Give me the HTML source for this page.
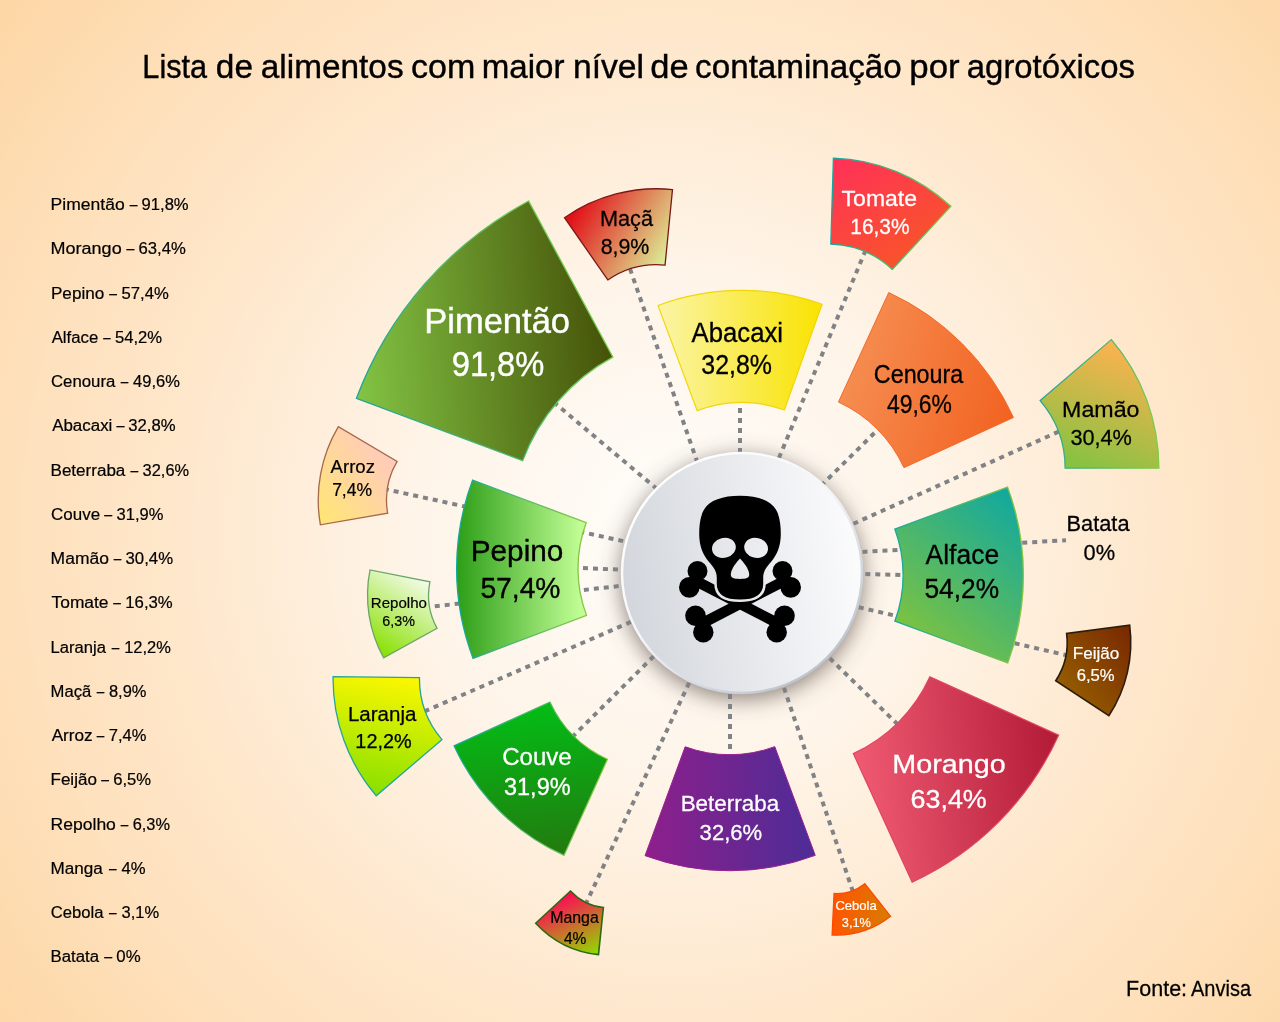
<!DOCTYPE html><html><head><meta charset="utf-8"><style>html,body{margin:0;padding:0;width:1280px;height:1022px;overflow:hidden;background:#fde3c2}svg{display:block;will-change:transform;font-family:"Liberation Sans",sans-serif}</style></head><body><svg width="1280" height="1022" viewBox="0 0 1280 1022"><defs><radialGradient id="bg" gradientUnits="userSpaceOnUse" cx="670" cy="530" r="860"><stop offset="0" stop-color="#fffdfa"/><stop offset="0.3" stop-color="#fef4e8"/><stop offset="0.58" stop-color="#fee7cb"/><stop offset="0.75" stop-color="#fee1bd"/><stop offset="1" stop-color="#fdd6a4"/></radialGradient><filter id="shadow" x="-40%" y="-40%" width="180%" height="180%"><feGaussianBlur stdDeviation="11"/></filter><linearGradient id="g_pimentao" gradientUnits="userSpaceOnUse" x1="358" y1="400" x2="612" y2="380"><stop offset="0" stop-color="#82c443"/><stop offset="1" stop-color="#465309"/></linearGradient><linearGradient id="s_pimentao" gradientUnits="userSpaceOnUse" x1="360" y1="400" x2="610" y2="300"><stop offset="0" stop-color="#1ea29c"/><stop offset="1" stop-color="#80d24c"/></linearGradient><linearGradient id="g_maca" gradientUnits="userSpaceOnUse" x1="575" y1="212" x2="668" y2="268"><stop offset="0" stop-color="#e2121a"/><stop offset="1" stop-color="#dcf99c"/></linearGradient><linearGradient id="g_tomate" gradientUnits="userSpaceOnUse" x1="835" y1="160" x2="900" y2="268"><stop offset="0" stop-color="#ff3158"/><stop offset="1" stop-color="#f8542a"/></linearGradient><linearGradient id="s_tomate" gradientUnits="userSpaceOnUse" x1="832" y1="200" x2="950" y2="210"><stop offset="0" stop-color="#13a89e"/><stop offset="1" stop-color="#7cc84a"/></linearGradient><linearGradient id="g_abacaxi" gradientUnits="userSpaceOnUse" x1="660" y1="350" x2="822" y2="350"><stop offset="0" stop-color="#fbf4a4"/><stop offset="1" stop-color="#f9e300"/></linearGradient><linearGradient id="g_cenoura" gradientUnits="userSpaceOnUse" x1="840" y1="360" x2="1012" y2="410"><stop offset="0" stop-color="#f68f53"/><stop offset="1" stop-color="#f26322"/></linearGradient><linearGradient id="g_mamao" gradientUnits="userSpaceOnUse" x1="1111" y1="342" x2="1062" y2="468"><stop offset="0" stop-color="#fbb24f"/><stop offset="1" stop-color="#80c341"/></linearGradient><linearGradient id="s_mamao" gradientUnits="userSpaceOnUse" x1="1040" y1="400" x2="1159" y2="420"><stop offset="0" stop-color="#1ea59c"/><stop offset="1" stop-color="#80cb48"/></linearGradient><linearGradient id="g_alface" gradientUnits="userSpaceOnUse" x1="896" y1="622" x2="1010" y2="488"><stop offset="0" stop-color="#7cc242"/><stop offset="1" stop-color="#10a8a0"/></linearGradient><linearGradient id="s_alface" gradientUnits="userSpaceOnUse" x1="895" y1="575" x2="1024" y2="575"><stop offset="0" stop-color="#13a89e"/><stop offset="1" stop-color="#8dc63f"/></linearGradient><linearGradient id="g_feijao" gradientUnits="userSpaceOnUse" x1="1056" y1="682" x2="1130" y2="626"><stop offset="0" stop-color="#955d00"/><stop offset="1" stop-color="#782800"/></linearGradient><linearGradient id="g_morango" gradientUnits="userSpaceOnUse" x1="855" y1="760" x2="1058" y2="740"><stop offset="0" stop-color="#f05a72"/><stop offset="1" stop-color="#b21a36"/></linearGradient><linearGradient id="g_cebola" gradientUnits="userSpaceOnUse" x1="833" y1="905" x2="890" y2="912"><stop offset="0" stop-color="#ff5400"/><stop offset="1" stop-color="#d87c00"/></linearGradient><linearGradient id="g_beterraba" gradientUnits="userSpaceOnUse" x1="645" y1="800" x2="815" y2="800"><stop offset="0" stop-color="#8e1f8b"/><stop offset="1" stop-color="#4d2c96"/></linearGradient><linearGradient id="g_manga" gradientUnits="userSpaceOnUse" x1="570" y1="892" x2="598" y2="954"><stop offset="0" stop-color="#ff0857"/><stop offset="1" stop-color="#8fdd00"/></linearGradient><linearGradient id="g_couve" gradientUnits="userSpaceOnUse" x1="550" y1="702" x2="565" y2="855"><stop offset="0" stop-color="#03bd16"/><stop offset="1" stop-color="#227a0f"/></linearGradient><linearGradient id="s_couve" gradientUnits="userSpaceOnUse" x1="454" y1="745" x2="607" y2="760"><stop offset="0" stop-color="#13a89e"/><stop offset="1" stop-color="#8dc63f"/></linearGradient><linearGradient id="g_laranja" gradientUnits="userSpaceOnUse" x1="400" y1="677" x2="377" y2="795"><stop offset="0" stop-color="#fbf700"/><stop offset="1" stop-color="#88e000"/></linearGradient><linearGradient id="g_repolho" gradientUnits="userSpaceOnUse" x1="384" y1="657" x2="432" y2="582"><stop offset="0" stop-color="#88e000"/><stop offset="1" stop-color="#f6fcf0"/></linearGradient><linearGradient id="g_pepino" gradientUnits="userSpaceOnUse" x1="452" y1="570" x2="580" y2="570"><stop offset="0" stop-color="#279a12"/><stop offset="1" stop-color="#c0fd94"/></linearGradient><linearGradient id="s_pepino" gradientUnits="userSpaceOnUse" x1="458" y1="570" x2="587" y2="570"><stop offset="0" stop-color="#13a89e"/><stop offset="1" stop-color="#8dc63f"/></linearGradient><linearGradient id="g_arroz" gradientUnits="userSpaceOnUse" x1="322" y1="522" x2="397" y2="462"><stop offset="0" stop-color="#ffe676"/><stop offset="1" stop-color="#ffcabd"/></linearGradient><linearGradient id="circ" gradientUnits="userSpaceOnUse" x1="621" y1="595" x2="863" y2="555"><stop offset="0" stop-color="#d2d6dc"/><stop offset="1" stop-color="#fcfcfd"/></linearGradient><linearGradient id="circs" gradientUnits="userSpaceOnUse" x1="660" y1="470" x2="820" y2="680"><stop offset="0" stop-color="#ffffff"/><stop offset="0.45" stop-color="#f4f5f7"/><stop offset="1" stop-color="#b9c0cb"/></linearGradient></defs><rect x="0" y="0" width="1280" height="1022" fill="url(#bg)"/>
<text x="142.36" y="78.00" font-size="33.72" fill="#000" stroke="#000" stroke-width="0.40" textLength="64.73" lengthAdjust="spacingAndGlyphs">Lista</text>
<text x="215.86" y="78.00" font-size="33.72" fill="#000" stroke="#000" stroke-width="0.40" textLength="37.14" lengthAdjust="spacingAndGlyphs">de</text>
<text x="260.79" y="78.00" font-size="33.72" fill="#000" stroke="#000" stroke-width="0.40" textLength="142.78" lengthAdjust="spacingAndGlyphs">alimentos</text>
<text x="411.04" y="78.00" font-size="33.72" fill="#000" stroke="#000" stroke-width="0.40" textLength="64.29" lengthAdjust="spacingAndGlyphs">com</text>
<text x="481.65" y="78.00" font-size="33.72" fill="#000" stroke="#000" stroke-width="0.40" textLength="82.80" lengthAdjust="spacingAndGlyphs">maior</text>
<text x="572.99" y="78.00" font-size="33.72" fill="#000" stroke="#000" stroke-width="0.40" textLength="71.08" lengthAdjust="spacingAndGlyphs">nível</text>
<text x="650.38" y="78.00" font-size="33.72" fill="#000" stroke="#000" stroke-width="0.40" textLength="38.34" lengthAdjust="spacingAndGlyphs">de</text>
<text x="695.11" y="78.00" font-size="33.72" fill="#000" stroke="#000" stroke-width="0.40" textLength="206.67" lengthAdjust="spacingAndGlyphs">contaminação</text>
<text x="909.39" y="78.00" font-size="33.72" fill="#000" stroke="#000" stroke-width="0.40" textLength="50.32" lengthAdjust="spacingAndGlyphs">por</text>
<text x="966.84" y="78.00" font-size="33.72" fill="#000" stroke="#000" stroke-width="0.40" textLength="168.07" lengthAdjust="spacingAndGlyphs">agrotóxicos</text>
<text x="50.64" y="210.00" font-size="17.30" fill="#000" stroke="#000" stroke-width="0.21" textLength="74.00" lengthAdjust="spacingAndGlyphs">Pimentão</text>
<text x="129.78" y="210.00" font-size="17.30" fill="#000" stroke="#000" stroke-width="0.21" textLength="7.75" lengthAdjust="spacingAndGlyphs">–</text>
<text x="141.54" y="210.00" font-size="17.30" fill="#000" stroke="#000" stroke-width="0.21" textLength="47.13" lengthAdjust="spacingAndGlyphs">91,8%</text>
<text x="50.61" y="254.26" font-size="17.30" fill="#000" stroke="#000" stroke-width="0.21" textLength="71.04" lengthAdjust="spacingAndGlyphs">Morango</text>
<text x="126.46" y="254.26" font-size="17.30" fill="#000" stroke="#000" stroke-width="0.21" textLength="7.87" lengthAdjust="spacingAndGlyphs">–</text>
<text x="138.43" y="254.26" font-size="17.30" fill="#000" stroke="#000" stroke-width="0.21" textLength="47.35" lengthAdjust="spacingAndGlyphs">63,4%</text>
<text x="50.94" y="298.52" font-size="17.30" fill="#000" stroke="#000" stroke-width="0.21" textLength="53.34" lengthAdjust="spacingAndGlyphs">Pepino</text>
<text x="109.21" y="298.52" font-size="17.30" fill="#000" stroke="#000" stroke-width="0.21" textLength="7.72" lengthAdjust="spacingAndGlyphs">–</text>
<text x="121.48" y="298.52" font-size="17.30" fill="#000" stroke="#000" stroke-width="0.21" textLength="47.29" lengthAdjust="spacingAndGlyphs">57,4%</text>
<text x="51.66" y="342.78" font-size="17.30" fill="#000" stroke="#000" stroke-width="0.21" textLength="46.64" lengthAdjust="spacingAndGlyphs">Alface</text>
<text x="103.24" y="342.78" font-size="17.30" fill="#000" stroke="#000" stroke-width="0.21" textLength="7.34" lengthAdjust="spacingAndGlyphs">–</text>
<text x="114.92" y="342.78" font-size="17.30" fill="#000" stroke="#000" stroke-width="0.21" textLength="47.22" lengthAdjust="spacingAndGlyphs">54,2%</text>
<text x="50.98" y="387.04" font-size="17.30" fill="#000" stroke="#000" stroke-width="0.21" textLength="64.35" lengthAdjust="spacingAndGlyphs">Cenoura</text>
<text x="120.77" y="387.04" font-size="17.30" fill="#000" stroke="#000" stroke-width="0.21" textLength="7.53" lengthAdjust="spacingAndGlyphs">–</text>
<text x="133.08" y="387.04" font-size="17.30" fill="#000" stroke="#000" stroke-width="0.21" textLength="46.80" lengthAdjust="spacingAndGlyphs">49,6%</text>
<text x="52.18" y="431.30" font-size="17.30" fill="#000" stroke="#000" stroke-width="0.21" textLength="60.19" lengthAdjust="spacingAndGlyphs">Abacaxi</text>
<text x="116.43" y="431.30" font-size="17.30" fill="#000" stroke="#000" stroke-width="0.21" textLength="7.99" lengthAdjust="spacingAndGlyphs">–</text>
<text x="128.23" y="431.30" font-size="17.30" fill="#000" stroke="#000" stroke-width="0.21" textLength="47.33" lengthAdjust="spacingAndGlyphs">32,8%</text>
<text x="50.53" y="475.56" font-size="17.30" fill="#000" stroke="#000" stroke-width="0.21" textLength="74.84" lengthAdjust="spacingAndGlyphs">Beterraba</text>
<text x="130.62" y="475.56" font-size="17.30" fill="#000" stroke="#000" stroke-width="0.21" textLength="7.75" lengthAdjust="spacingAndGlyphs">–</text>
<text x="142.61" y="475.56" font-size="17.30" fill="#000" stroke="#000" stroke-width="0.21" textLength="46.49" lengthAdjust="spacingAndGlyphs">32,6%</text>
<text x="51.08" y="519.82" font-size="17.30" fill="#000" stroke="#000" stroke-width="0.21" textLength="49.10" lengthAdjust="spacingAndGlyphs">Couve</text>
<text x="104.20" y="519.82" font-size="17.30" fill="#000" stroke="#000" stroke-width="0.21" textLength="7.95" lengthAdjust="spacingAndGlyphs">–</text>
<text x="116.58" y="519.82" font-size="17.30" fill="#000" stroke="#000" stroke-width="0.21" textLength="46.80" lengthAdjust="spacingAndGlyphs">31,9%</text>
<text x="50.64" y="564.08" font-size="17.30" fill="#000" stroke="#000" stroke-width="0.21" textLength="58.30" lengthAdjust="spacingAndGlyphs">Mamão</text>
<text x="113.77" y="564.08" font-size="17.30" fill="#000" stroke="#000" stroke-width="0.21" textLength="7.53" lengthAdjust="spacingAndGlyphs">–</text>
<text x="125.56" y="564.08" font-size="17.30" fill="#000" stroke="#000" stroke-width="0.21" textLength="47.53" lengthAdjust="spacingAndGlyphs">30,4%</text>
<text x="51.55" y="608.34" font-size="17.30" fill="#000" stroke="#000" stroke-width="0.21" textLength="56.98" lengthAdjust="spacingAndGlyphs">Tomate</text>
<text x="113.24" y="608.34" font-size="17.30" fill="#000" stroke="#000" stroke-width="0.21" textLength="7.58" lengthAdjust="spacingAndGlyphs">–</text>
<text x="125.27" y="608.34" font-size="17.30" fill="#000" stroke="#000" stroke-width="0.21" textLength="47.48" lengthAdjust="spacingAndGlyphs">16,3%</text>
<text x="50.58" y="652.60" font-size="17.30" fill="#000" stroke="#000" stroke-width="0.21" textLength="55.42" lengthAdjust="spacingAndGlyphs">Laranja</text>
<text x="111.77" y="652.60" font-size="17.30" fill="#000" stroke="#000" stroke-width="0.21" textLength="7.53" lengthAdjust="spacingAndGlyphs">–</text>
<text x="124.13" y="652.60" font-size="17.30" fill="#000" stroke="#000" stroke-width="0.21" textLength="46.74" lengthAdjust="spacingAndGlyphs">12,2%</text>
<text x="50.56" y="696.86" font-size="17.30" fill="#000" stroke="#000" stroke-width="0.21" textLength="40.66" lengthAdjust="spacingAndGlyphs">Maçã</text>
<text x="96.77" y="696.86" font-size="17.30" fill="#000" stroke="#000" stroke-width="0.21" textLength="7.53" lengthAdjust="spacingAndGlyphs">–</text>
<text x="108.91" y="696.86" font-size="17.30" fill="#000" stroke="#000" stroke-width="0.21" textLength="37.52" lengthAdjust="spacingAndGlyphs">8,9%</text>
<text x="51.64" y="741.12" font-size="17.30" fill="#000" stroke="#000" stroke-width="0.21" textLength="41.06" lengthAdjust="spacingAndGlyphs">Arroz</text>
<text x="96.77" y="741.12" font-size="17.30" fill="#000" stroke="#000" stroke-width="0.21" textLength="7.53" lengthAdjust="spacingAndGlyphs">–</text>
<text x="108.82" y="741.12" font-size="17.30" fill="#000" stroke="#000" stroke-width="0.21" textLength="37.61" lengthAdjust="spacingAndGlyphs">7,4%</text>
<text x="50.53" y="785.38" font-size="17.30" fill="#000" stroke="#000" stroke-width="0.21" textLength="46.33" lengthAdjust="spacingAndGlyphs">Feijão</text>
<text x="101.26" y="785.38" font-size="17.30" fill="#000" stroke="#000" stroke-width="0.21" textLength="7.70" lengthAdjust="spacingAndGlyphs">–</text>
<text x="113.20" y="785.38" font-size="17.30" fill="#000" stroke="#000" stroke-width="0.21" textLength="37.85" lengthAdjust="spacingAndGlyphs">6,5%</text>
<text x="50.63" y="829.64" font-size="17.30" fill="#000" stroke="#000" stroke-width="0.21" textLength="65.24" lengthAdjust="spacingAndGlyphs">Repolho</text>
<text x="120.77" y="829.64" font-size="17.30" fill="#000" stroke="#000" stroke-width="0.21" textLength="7.53" lengthAdjust="spacingAndGlyphs">–</text>
<text x="132.71" y="829.64" font-size="17.30" fill="#000" stroke="#000" stroke-width="0.21" textLength="37.32" lengthAdjust="spacingAndGlyphs">6,3%</text>
<text x="50.52" y="873.90" font-size="17.30" fill="#000" stroke="#000" stroke-width="0.21" textLength="52.28" lengthAdjust="spacingAndGlyphs">Manga</text>
<text x="109.07" y="873.90" font-size="17.30" fill="#000" stroke="#000" stroke-width="0.21" textLength="7.57" lengthAdjust="spacingAndGlyphs">–</text>
<text x="121.57" y="873.90" font-size="17.30" fill="#000" stroke="#000" stroke-width="0.21" textLength="24.09" lengthAdjust="spacingAndGlyphs">4%</text>
<text x="50.77" y="918.16" font-size="17.30" fill="#000" stroke="#000" stroke-width="0.21" textLength="52.75" lengthAdjust="spacingAndGlyphs">Cebola</text>
<text x="109.07" y="918.16" font-size="17.30" fill="#000" stroke="#000" stroke-width="0.21" textLength="7.57" lengthAdjust="spacingAndGlyphs">–</text>
<text x="121.59" y="918.16" font-size="17.30" fill="#000" stroke="#000" stroke-width="0.21" textLength="37.62" lengthAdjust="spacingAndGlyphs">3,1%</text>
<text x="50.55" y="962.42" font-size="17.30" fill="#000" stroke="#000" stroke-width="0.21" textLength="48.50" lengthAdjust="spacingAndGlyphs">Batata</text>
<text x="104.20" y="962.42" font-size="17.30" fill="#000" stroke="#000" stroke-width="0.21" textLength="7.95" lengthAdjust="spacingAndGlyphs">–</text>
<text x="116.35" y="962.42" font-size="17.30" fill="#000" stroke="#000" stroke-width="0.21" textLength="24.33" lengthAdjust="spacingAndGlyphs">0%</text>
<text x="1126.11" y="996.00" font-size="21.44" fill="#000" stroke="#000" stroke-width="0.26" textLength="60.99" lengthAdjust="spacingAndGlyphs">Fonte:</text>
<text x="1190.99" y="996.00" font-size="21.44" fill="#000" stroke="#000" stroke-width="0.26" textLength="60.10" lengthAdjust="spacingAndGlyphs">Anvisa</text>
<circle cx="742" cy="578" r="121" fill="#5e5248" fill-opacity="0.72" filter="url(#shadow)"/>
<g stroke="#808285" stroke-width="4" stroke-dasharray="5 5" fill="none"><line x1="553.71" y1="402.14" x2="662.65" y2="493.74"/><line x1="630.03" y1="268.93" x2="700.09" y2="470.14"/><line x1="740.00" y1="398.00" x2="740.00" y2="462.00"/><line x1="865.61" y1="250.26" x2="776.55" y2="463.63"/><line x1="881.47" y1="425.98" x2="816.19" y2="490.53"/><line x1="1058.67" y1="431.64" x2="847.78" y2="526.29"/><line x1="852.52" y1="552.47" x2="1066.00" y2="540.25"/><line x1="855.30" y1="573.71" x2="906.00" y2="575.17"/><line x1="849.01" y1="604.95" x2="1069.85" y2="655.95"/><line x1="822.63" y1="651.33" x2="900.30" y2="726.88"/><line x1="780.79" y1="678.38" x2="854.12" y2="895.08"/><line x1="730.00" y1="684.00" x2="730.00" y2="760.50"/><line x1="585.46" y1="904.74" x2="691.93" y2="676.74"/><line x1="572.04" y1="737.23" x2="658.20" y2="651.76"/><line x1="424.50" y1="711.39" x2="637.07" y2="619.22"/><line x1="424.84" y1="607.35" x2="629.64" y2="584.91"/><line x1="573.01" y1="567.41" x2="629.69" y2="570.19"/><line x1="383.89" y1="488.82" x2="633.52" y2="543.39"/></g>
<path d="M356.46,398.32 A373.26,373.26 0 0 1 528.57,200.95 L612.92,357.12 A195.76,195.76 0 0 0 522.66,460.63 Z" fill="url(#g_pimentao)" stroke="url(#s_pimentao)" stroke-width="1.3" stroke-linejoin="miter"/>
<path d="M564.48,217.67 A161.41,161.41 0 0 1 672.50,189.53 L665.05,265.05 A85.53,85.53 0 0 0 607.82,279.96 Z" fill="url(#g_maca)" stroke="#7a1818" stroke-width="1.3" stroke-linejoin="miter"/>
<path d="M833.41,158.16 A180.84,180.84 0 0 1 950.90,206.32 L892.37,269.44 A94.76,94.76 0 0 0 830.81,244.21 Z" fill="url(#g_tomate)" stroke="url(#s_tomate)" stroke-width="1.3" stroke-linejoin="miter"/>
<path d="M657.98,305.44 A239.53,239.53 0 0 1 822.06,304.26 L784.38,409.99 A127.29,127.29 0 0 0 697.18,410.61 Z" fill="url(#g_abacaxi)" stroke="#f0d60a" stroke-width="1.2" stroke-linejoin="miter"/>
<path d="M888.71,292.57 A253.61,253.61 0 0 1 1013.47,417.51 L903.93,467.63 A133.15,133.15 0 0 0 838.43,402.03 Z" fill="url(#g_cenoura)" stroke="#f36a2b" stroke-width="1.0" stroke-linejoin="miter"/>
<path d="M1111.35,339.57 A197.79,197.79 0 0 1 1158.90,468.20 L1065.13,468.20 A104.02,104.02 0 0 0 1040.13,400.55 Z" fill="url(#g_mamao)" stroke="url(#s_mamao)" stroke-width="1.3" stroke-linejoin="miter"/>
<path d="M1007.51,487.02 A252.22,252.22 0 0 1 1007.69,662.92 L894.90,621.09 A131.92,131.92 0 0 0 894.80,529.09 Z" fill="url(#g_alface)" stroke="url(#s_alface)" stroke-width="1.3" stroke-linejoin="miter"/>
<path d="M1129.63,625.22 A133.13,133.13 0 0 1 1108.85,715.70 L1055.73,680.75 A69.55,69.55 0 0 0 1066.58,633.49 Z" fill="url(#g_feijao)" stroke="#2a1c0e" stroke-width="1.6" stroke-linejoin="miter"/>
<path d="M1058.58,735.14 A295.92,295.92 0 0 1 912.16,882.12 L853.36,753.63 A154.61,154.61 0 0 0 929.87,676.84 Z" fill="url(#g_morango)" stroke="#e04460" stroke-width="1.2" stroke-linejoin="miter"/>
<path d="M832.10,935.07 A87.65,87.65 0 0 0 890.56,916.35 L864.79,883.66 A46.02,46.02 0 0 1 834.09,893.48 Z" fill="url(#g_cebola)" stroke="#ff4800" stroke-width="1.3" stroke-linejoin="miter"/>
<path d="M645.05,855.64 A245.00,245.00 0 0 0 815.25,855.36 L774.77,746.63 A128.98,128.98 0 0 1 685.17,746.77 Z" fill="url(#g_beterraba)" stroke="#9a2090" stroke-width="1.0" stroke-linejoin="miter"/>
<path d="M535.70,923.21 A99.59,99.59 0 0 0 598.49,954.63 L603.39,907.50 A52.20,52.20 0 0 1 570.47,891.03 Z" fill="url(#g_manga)" stroke="#2b6a12" stroke-width="1.6" stroke-linejoin="miter"/>
<path d="M454.03,745.84 A221.08,221.08 0 0 0 564.04,855.33 L607.47,759.23 A115.62,115.62 0 0 1 549.93,701.97 Z" fill="url(#g_couve)" stroke="url(#s_couve)" stroke-width="1.2" stroke-linejoin="miter"/>
<path d="M333.07,676.60 A180.35,180.35 0 0 0 376.22,795.74 L441.93,739.67 A93.97,93.97 0 0 1 419.46,677.60 Z" fill="url(#g_laranja)" stroke="#23a59c" stroke-width="1.3" stroke-linejoin="miter"/>
<path d="M370.03,569.89 A129.70,129.70 0 0 0 383.62,657.81 L437.10,628.35 A68.64,68.64 0 0 1 429.91,581.82 Z" fill="url(#g_repolho)" stroke="#6aa56a" stroke-width="1.3" stroke-linejoin="miter"/>
<path d="M472.53,480.21 A253.24,253.24 0 0 0 473.07,658.41 L586.54,615.36 A131.88,131.88 0 0 1 586.26,522.56 Z" fill="url(#g_pepino)" stroke="url(#s_pepino)" stroke-width="1.3" stroke-linejoin="miter"/>
<path d="M338.34,426.61 A144.14,144.14 0 0 0 320.38,524.87 L387.67,513.10 A75.82,75.82 0 0 1 397.12,461.41 Z" fill="url(#g_arroz)" stroke="#a5694a" stroke-width="1.3" stroke-linejoin="miter"/>
<text x="424.23" y="332.50" font-size="34.88" fill="#fff" stroke="#fff" stroke-width="0.42" textLength="145.84" lengthAdjust="spacingAndGlyphs">Pimentão</text>
<text x="451.73" y="375.90" font-size="34.88" fill="#fff" stroke="#fff" stroke-width="0.42" textLength="92.57" lengthAdjust="spacingAndGlyphs">91,8%</text>
<text x="599.92" y="225.70" font-size="21.80" fill="#000" stroke="#000" stroke-width="0.26" textLength="53.12" lengthAdjust="spacingAndGlyphs">Maçã</text>
<text x="600.63" y="254.30" font-size="21.80" fill="#000" stroke="#000" stroke-width="0.26" textLength="48.71" lengthAdjust="spacingAndGlyphs">8,9%</text>
<text x="841.62" y="205.70" font-size="22.82" fill="#fff" stroke="#fff" stroke-width="0.27" textLength="75.41" lengthAdjust="spacingAndGlyphs">Tomate</text>
<text x="850.33" y="233.90" font-size="22.82" fill="#fff" stroke="#fff" stroke-width="0.27" textLength="59.11" lengthAdjust="spacingAndGlyphs">16,3%</text>
<text x="691.60" y="342.00" font-size="27.62" fill="#000" stroke="#000" stroke-width="0.33" textLength="91.39" lengthAdjust="spacingAndGlyphs">Abacaxi</text>
<text x="701.32" y="374.30" font-size="27.62" fill="#000" stroke="#000" stroke-width="0.33" textLength="70.68" lengthAdjust="spacingAndGlyphs">32,8%</text>
<text x="873.81" y="382.60" font-size="25.15" fill="#000" stroke="#000" stroke-width="0.30" textLength="89.55" lengthAdjust="spacingAndGlyphs">Cenoura</text>
<text x="886.94" y="413.30" font-size="25.15" fill="#000" stroke="#000" stroke-width="0.30" textLength="64.88" lengthAdjust="spacingAndGlyphs">49,6%</text>
<text x="1062.12" y="416.60" font-size="22.38" fill="#000" stroke="#000" stroke-width="0.27" textLength="77.37" lengthAdjust="spacingAndGlyphs">Mamão</text>
<text x="1070.40" y="445.20" font-size="22.38" fill="#000" stroke="#000" stroke-width="0.27" textLength="61.51" lengthAdjust="spacingAndGlyphs">30,4%</text>
<text x="925.60" y="563.60" font-size="28.34" fill="#000" stroke="#000" stroke-width="0.34" textLength="73.53" lengthAdjust="spacingAndGlyphs">Alface</text>
<text x="924.49" y="598.00" font-size="28.34" fill="#000" stroke="#000" stroke-width="0.34" textLength="74.57" lengthAdjust="spacingAndGlyphs">54,2%</text>
<text x="1066.53" y="531.20" font-size="21.80" fill="#000" stroke="#000" stroke-width="0.26" textLength="63.04" lengthAdjust="spacingAndGlyphs">Batata</text>
<text x="1083.59" y="559.90" font-size="21.80" fill="#000" stroke="#000" stroke-width="0.26" textLength="31.54" lengthAdjust="spacingAndGlyphs">0%</text>
<text x="1072.73" y="659.10" font-size="17.15" fill="#fff" stroke="#fff" stroke-width="0.21" textLength="46.68" lengthAdjust="spacingAndGlyphs">Feijão</text>
<text x="1076.71" y="680.80" font-size="17.15" fill="#fff" stroke="#fff" stroke-width="0.21" textLength="38.00" lengthAdjust="spacingAndGlyphs">6,5%</text>
<text x="892.23" y="773.30" font-size="26.60" fill="#fff" stroke="#fff" stroke-width="0.32" textLength="113.42" lengthAdjust="spacingAndGlyphs">Morango</text>
<text x="910.64" y="807.80" font-size="26.60" fill="#fff" stroke="#fff" stroke-width="0.32" textLength="76.11" lengthAdjust="spacingAndGlyphs">63,4%</text>
<text x="835.44" y="910.00" font-size="13.37" fill="#fff" stroke="#fff" stroke-width="0.20" textLength="41.32" lengthAdjust="spacingAndGlyphs">Cebola</text>
<text x="841.81" y="926.90" font-size="13.37" fill="#fff" stroke="#fff" stroke-width="0.20" textLength="29.15" lengthAdjust="spacingAndGlyphs">3,1%</text>
<text x="680.67" y="810.50" font-size="21.51" fill="#fff" stroke="#fff" stroke-width="0.26" textLength="98.52" lengthAdjust="spacingAndGlyphs">Beterraba</text>
<text x="699.63" y="839.50" font-size="21.51" fill="#fff" stroke="#fff" stroke-width="0.26" textLength="62.49" lengthAdjust="spacingAndGlyphs">32,6%</text>
<text x="550.21" y="923.30" font-size="15.99" fill="#000" stroke="#000" stroke-width="0.20" textLength="48.58" lengthAdjust="spacingAndGlyphs">Manga</text>
<text x="563.97" y="943.50" font-size="15.99" fill="#000" stroke="#000" stroke-width="0.20" textLength="22.47" lengthAdjust="spacingAndGlyphs">4%</text>
<text x="502.20" y="765.20" font-size="23.40" fill="#fff" stroke="#fff" stroke-width="0.28" textLength="69.48" lengthAdjust="spacingAndGlyphs">Couve</text>
<text x="504.03" y="795.40" font-size="23.40" fill="#fff" stroke="#fff" stroke-width="0.28" textLength="66.54" lengthAdjust="spacingAndGlyphs">31,9%</text>
<text x="347.90" y="720.50" font-size="21.08" fill="#000" stroke="#000" stroke-width="0.25" textLength="68.47" lengthAdjust="spacingAndGlyphs">Laranja</text>
<text x="355.37" y="747.60" font-size="21.08" fill="#000" stroke="#000" stroke-width="0.25" textLength="56.37" lengthAdjust="spacingAndGlyphs">12,2%</text>
<text x="370.79" y="607.50" font-size="14.54" fill="#000" stroke="#000" stroke-width="0.20" textLength="56.16" lengthAdjust="spacingAndGlyphs">Repolho</text>
<text x="382.27" y="626.30" font-size="14.54" fill="#000" stroke="#000" stroke-width="0.20" textLength="32.57" lengthAdjust="spacingAndGlyphs">6,3%</text>
<text x="470.73" y="560.50" font-size="29.65" fill="#000" stroke="#000" stroke-width="0.36" textLength="92.60" lengthAdjust="spacingAndGlyphs">Pepino</text>
<text x="480.42" y="598.30" font-size="29.65" fill="#000" stroke="#000" stroke-width="0.36" textLength="80.06" lengthAdjust="spacingAndGlyphs">57,4%</text>
<text x="330.63" y="472.50" font-size="18.46" fill="#000" stroke="#000" stroke-width="0.22" textLength="44.35" lengthAdjust="spacingAndGlyphs">Arroz</text>
<text x="332.15" y="496.20" font-size="18.46" fill="#000" stroke="#000" stroke-width="0.22" textLength="39.88" lengthAdjust="spacingAndGlyphs">7,4%</text>
<circle cx="742" cy="573" r="120" fill="url(#circ)" stroke="url(#circs)" stroke-width="2.5"/>
<g><g stroke="#000" stroke-width="10.5" stroke-linecap="butt"><line x1="694" y1="580" x2="781" y2="625"/><line x1="786" y1="580" x2="699" y2="625"/></g><g fill="#000"><circle cx="697.5" cy="571" r="10"/><circle cx="689.3" cy="587.4" r="10.3"/><circle cx="782.5" cy="571" r="10"/><circle cx="790.7" cy="587.4" r="10.3"/><circle cx="695.5" cy="615.7" r="10.3"/><circle cx="703.3" cy="632.3" r="10.2"/><circle cx="784.5" cy="615.7" r="10.3"/><circle cx="776.7" cy="632.3" r="10.2"/></g><clipPath id="jawclip"><rect x="680" y="562" width="120" height="60"/></clipPath><path d="M740,495.8 C721,495.8 707,501 702.3,513 C699.8,520 699.2,527 699.2,534 C699.2,546 703,555 709,562 C713.5,567 716.8,571 716.8,578 L716.8,584 C716.8,594.5 725,599.6 740,599.6 C755,599.6 763.2,594.5 763.2,584 L763.2,578 C763.2,571 766.5,567 771,562 C777,555 780.8,546 780.8,534 C780.8,527 780.2,520 777.7,513 C773,501 759,495.8 740,495.8 Z" fill="none" stroke="url(#circ)" stroke-width="5" clip-path="url(#jawclip)"/><path d="M740,495.8 C721,495.8 707,501 702.3,513 C699.8,520 699.2,527 699.2,534 C699.2,546 703,555 709,562 C713.5,567 716.8,571 716.8,578 L716.8,584 C716.8,594.5 725,599.6 740,599.6 C755,599.6 763.2,594.5 763.2,584 L763.2,578 C763.2,571 766.5,567 771,562 C777,555 780.8,546 780.8,534 C780.8,527 780.2,520 777.7,513 C773,501 759,495.8 740,495.8 Z" fill="#000"/><ellipse cx="723.9" cy="547.9" rx="12" ry="10" transform="rotate(-14 723.9 547.9)" fill="url(#circ)"/><ellipse cx="756.1" cy="547.9" rx="12" ry="10" transform="rotate(14 756.1 547.9)" fill="url(#circ)"/><path d="M740,558.4 C742.5,561 749.2,568.5 749.2,574.6 C749.2,578.2 746,579 740,579 C734,579 730.8,578.2 730.8,574.6 C730.8,568.5 737.5,561 740,558.4 Z" fill="url(#circ)"/></g></svg></body></html>
